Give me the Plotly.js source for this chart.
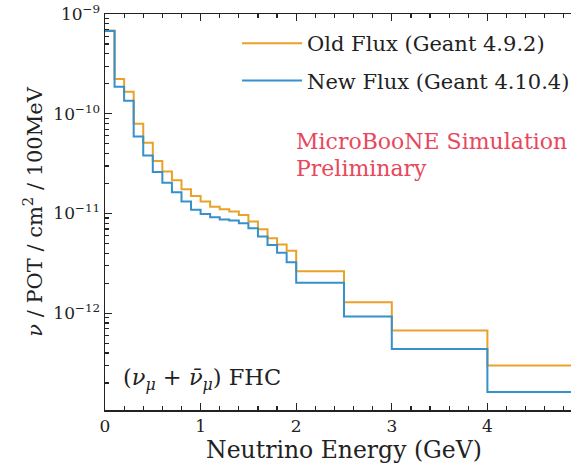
<!DOCTYPE html>
<html>
<head>
<meta charset="utf-8">
<script src="https://cdn.plot.ly/plotly-3.0.1.min.js"></script>
<style>
html,body{margin:0;padding:0;overflow:hidden;background:#fff;}
#chart{width:600px;height:469px;}
</style>
</head>
<body>
<div id="chart"></div>
<script>
// Bin edges (GeV)
var binEdges = [0.0,0.1,0.2,0.3,0.4,0.5,0.6,0.7,0.8,0.9,1.0,1.1,1.2,1.3,1.4,1.5,1.6,1.7,1.8,1.9,2.0,2.5,3.0,4.0,5.0];
// Old flux (Geant 4.9.2), nu / POT / cm^2 / 100MeV
var oldFlux = [6.84e-10,2.23e-10,1.66e-10,7.96e-11,5.13e-11,3.36e-11,2.64e-11,2.15e-11,1.75e-11,1.50e-11,
               1.32e-11,1.17e-11,1.10e-11,1.045e-11,9.68e-12,8.30e-12,6.97e-12,5.66e-12,4.90e-12,4.22e-12,
               2.64e-12,1.29e-12,6.70e-13,2.99e-13];
// New flux (Geant 4.10.4)
var newFlux = [6.76e-10,1.86e-10,1.35e-10,5.90e-11,3.82e-11,2.61e-11,2.03e-11,1.63e-11,1.32e-11,1.09e-11,
               9.91e-12,9.18e-12,8.73e-12,8.49e-12,8.00e-12,7.13e-12,5.88e-12,4.84e-12,4.03e-12,3.24e-12,
               2.02e-12,9.27e-13,4.37e-13,1.62e-13];
var seriesNames = ["Old Flux (Geant 4.9.2)", "New Flux (Geant 4.10.4)"];
var xTickVals = [0,1,2,3,4];
var xTickText = ["0","1","2","3","4"];
var yTickVals = [1e-12,1e-11,1e-10,1e-9];
var yTickText = ["10<sup>−12</sup>","10<sup>−11</sup>","10<sup>−10</sup>","10<sup>−9</sup>"];

function stepY(vals){ return vals.concat([vals[vals.length-1]]); }
// minor log ticks 2..9 within each decade
var yMinorVals = [];
[1e-13,1e-12,1e-11,1e-10].forEach(function(d){ for(var k=2;k<=9;k++){ yMinorVals.push(k*d); } });

var serif = "DejaVu Serif";
var ink = '#222';
var traces = [
  {x: binEdges, y: stepY(oldFlux), name: seriesNames[0], type:'scatter', mode:'lines', legendgroup:'a',
   line:{shape:'hv', color:'#E9A12A', width:2}},
  {x: binEdges, y: stepY(newFlux), name: seriesNames[1], type:'scatter', mode:'lines', legendgroup:'b',
   line:{shape:'hv', color:'#3690CB', width:2}}
];

var layout = {
  width:600, height:469,
  margin:{l:105, r:17, t:14, b:59},
  paper_bgcolor:'#fff', plot_bgcolor:'#fff',
  font:{family:serif, color:ink},
  showlegend:true,
  legend:{x:0.2763, y:0.977, xanchor:'left', yanchor:'top', bgcolor:'rgba(0,0,0,0)',
          font:{family:serif, size:21, color:ink}, traceorder:'grouped', tracegroupgap:7, itemwidth:60},
  xaxis:{range:[0,5], tickvals:xTickVals, ticktext:xTickText, ticks:'inside', ticklen:7, tickwidth:1.3,
         tickcolor:ink, showline:true, linecolor:ink, linewidth:1.5, mirror:'ticks',
         showgrid:false, zeroline:false,
         minor:{dtick:0.2, tick0:0, ticks:'inside', ticklen:4, tickwidth:1.2, tickcolor:ink, showgrid:false},
         tickfont:{family:serif, size:17, color:ink},
         title:{text:'Neutrino Energy (GeV)', font:{family:serif, size:23.5, color:ink}, standoff:4}},
  yaxis:{type:'log', range:[-12.97,-9], tickvals:yTickVals, ticktext:yTickText, ticks:'inside', ticklen:7, tickwidth:1.3,
         tickcolor:ink, showline:true, linecolor:ink, linewidth:1.5, mirror:'ticks',
         showgrid:false, zeroline:false,
         minor:{tickmode:'array', tickvals:yMinorVals, ticks:'inside', ticklen:4, tickwidth:1.2, tickcolor:ink, showgrid:false},
         tickfont:{family:serif, size:17, color:ink},
         title:{text:'<i>ν</i> / POT / cm<sup>2</sup> / 100MeV', font:{family:serif, size:21, color:ink}, standoff:5}},
  annotations:[
    {xref:'paper', yref:'paper', x:(294-105)/478, y:1-(127-14)/396, xanchor:'left', yanchor:'top', showarrow:false,
     text:'MicroBooNE Simulation', font:{family:serif, size:22, color:'#E8475C'}},
    {xref:'paper', yref:'paper', x:(294-105)/478, y:1-(154-14)/396, xanchor:'left', yanchor:'top', showarrow:false,
     text:'Preliminary', font:{family:serif, size:22, color:'#E8475C'}},
    {xref:'paper', yref:'paper', x:(121-105)/478, y:1-(362-14)/396, xanchor:'left', yanchor:'top', showarrow:false,
     text:'(<i>ν</i><sub><i>μ</i></sub> + <i>ν̄</i><sub><i>μ</i></sub>) FHC', font:{family:serif, size:22.5, color:ink}}
  ]
};

Plotly.newPlot('chart', traces, layout, {displayModeBar:false, staticPlot:true});
</script>
</body>
</html>
